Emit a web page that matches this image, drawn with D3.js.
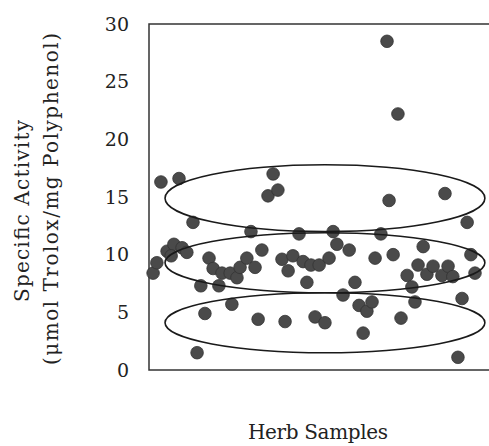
<!DOCTYPE html>
<html>
<head>
<meta charset="utf-8">
<script src="https://cdn.jsdelivr.net/npm/d3@7"></script>
<style>
 body { margin: 0; background: #fff; }
 text { font-family: "DejaVu Serif", "Liberation Serif", serif; fill: #222; }
</style>
</head>
<body>
<script>
// sample position along the x axis (no ticks, 0-100) and specific activity
var sampleX = [1.2, 2.3, 3.5, 8.8, 5.3, 7.3, 9.7, 11.1, 6.5, 12.9, 14.1, 15.2, 16.4, 17.6, 18.8,
  20.5, 21.4, 23.8, 25.8, 24.3, 26.7, 28.7, 31.1, 29.9, 32.0, 33.1, 34.9, 36.4, 37.8, 39.0,
  40.8, 42.2, 45.2, 47.5, 49.9, 52.8, 39.9, 44.0, 46.3, 48.7, 51.6, 54.0, 55.1, 58.7, 56.9,
  60.4, 61.6, 63.9, 65.4, 62.8, 66.3, 68.0, 69.8, 70.4, 71.6, 73.0, 73.9, 75.7, 77.1, 78.0,
  78.9, 80.4, 81.5, 83.3, 85.9, 87.7, 89.1, 86.8, 90.6, 91.8, 93.3, 94.4, 95.6];
var activity = [8.4, 9.3, 16.3, 16.6, 10.3, 10.9, 10.6, 10.2, 9.9, 12.8, 1.5, 7.3, 4.9, 9.7, 8.8,
  7.3, 8.4, 8.4, 8.0, 5.7, 8.9, 9.7, 8.9, 12.0, 4.4, 10.4, 15.1, 17.0, 15.6, 9.6,
  8.6, 9.9, 9.4, 9.1, 9.1, 9.7, 4.2, 11.8, 7.6, 4.6, 4.1, 12.0, 10.9, 10.4, 6.5,
  7.6, 5.6, 5.1, 5.9, 3.2, 9.7, 11.8, 28.5, 14.7, 10.0, 22.2, 4.5, 8.2, 7.2, 5.9,
  9.1, 10.7, 8.3, 9.0, 8.2, 9.0, 8.1, 15.3, 1.1, 6.2, 12.8, 10.0, 8.4];

// activity groups circled on the chart
var groupCenter = [14.9, 9.3, 4.1];
var groupHalf = [2.9, 2.6, 2.6];
var groupMidX = 51.6, groupHalfX = 46.9;

var yTicks = [0, 5, 10, 15, 20, 25, 30];

var width = 489, height = 446;
var plotLeft = 149, plotTop = 24, plotBottom = 370, plotRight = 490;

var svg = d3.select("body").append("svg")
  .attr("width", width)
  .attr("height", height);

var x = d3.scaleLinear().domain([0, 100]).range([plotLeft, plotRight]);
var y = d3.scaleLinear().domain([0, 30]).range([plotBottom, plotTop]);

// plot frame
svg.append("rect")
  .attr("x", plotLeft)
  .attr("y", plotTop)
  .attr("width", plotRight - plotLeft + 5)
  .attr("height", plotBottom - plotTop)
  .attr("fill", "none")
  .attr("stroke", "#333")
  .attr("stroke-width", 1.5);

// y axis labels only
var yAxis = d3.axisLeft(y).tickValues(yTicks).tickSize(0).tickPadding(20);
var ya = svg.append("g")
  .attr("transform", "translate(" + plotLeft + ",0)")
  .call(yAxis);
ya.select(".domain").remove();
ya.selectAll("text")
  .style("font-family", "'DejaVu Serif', serif")
  .style("font-size", "19px")
  .attr("fill", "#222");

// points
var pts = d3.range(sampleX.length);
svg.append("g").selectAll("circle")
  .data(pts)
  .enter().append("circle")
  .attr("cx", function(i) { return x(sampleX[i]); })
  .attr("cy", function(i) { return y(activity[i]); })
  .attr("r", 6.3)
  .attr("fill", "#4a4a4a")
  .attr("stroke", "#333")
  .attr("stroke-width", 0.8);

// group ellipses
svg.append("g").selectAll("ellipse")
  .data(groupCenter)
  .enter().append("ellipse")
  .attr("cx", x(groupMidX))
  .attr("cy", function(d) { return y(d); })
  .attr("rx", x(groupMidX + groupHalfX) - x(groupMidX))
  .attr("ry", function(d, i) { return y(d - groupHalf[i]) - y(d); })
  .attr("fill", "none")
  .attr("stroke", "#1a1a1a")
  .attr("stroke-width", 1.6);

// axis titles
svg.append("text")
  .attr("transform", "translate(29,211) rotate(-90)")
  .attr("text-anchor", "middle")
  .attr("textLength", 182)
  .style("font-size", "20px")
  .text("Specific Activity");
svg.append("text")
  .attr("transform", "translate(58,199) rotate(-90)")
  .attr("text-anchor", "middle")
  .attr("textLength", 332)
  .style("font-size", "20px")
  .text("(μmol Trolox/mg Polyphenol)");

svg.append("text")
  .attr("x", 318)
  .attr("y", 439)
  .attr("text-anchor", "middle")
  .attr("textLength", 140)
  .style("font-size", "20px")
  .text("Herb Samples");
</script>
</body>
</html>
